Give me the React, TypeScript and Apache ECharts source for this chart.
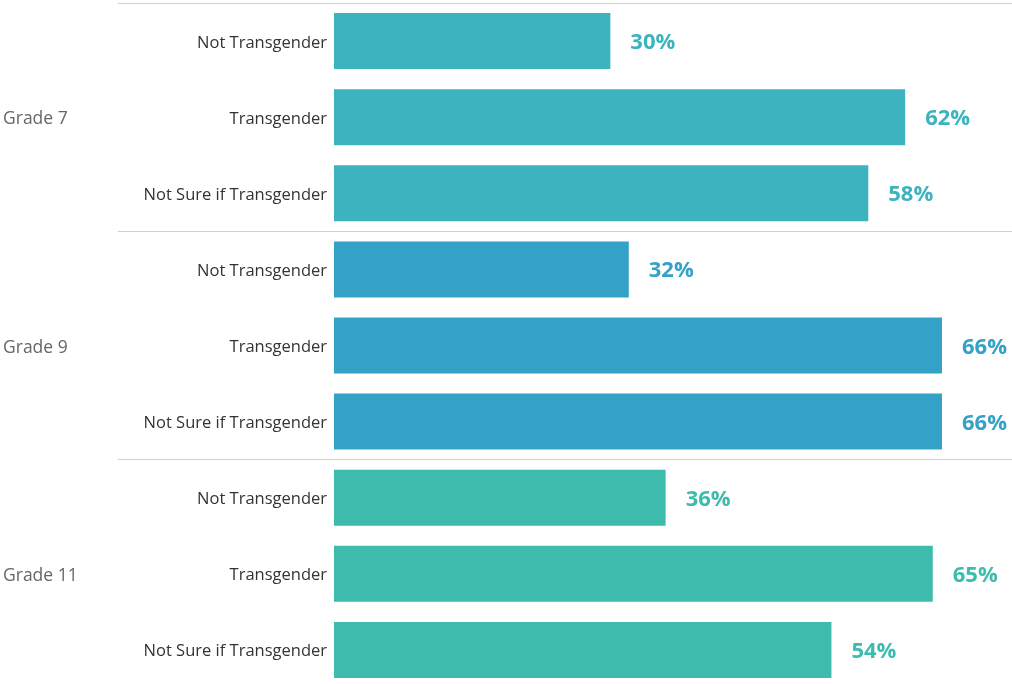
import React, { useEffect, useRef } from "react";
import * as echarts from "echarts";

const grades = ["Grade 7", "Grade 9", "Grade 11"];
const identities = ["Not Transgender", "Transgender", "Not Sure if Transgender"];
const grade7 = [30, 62, 58];
const grade9 = [32, 66, 66];
const grade11 = [36, 65, 54];
const gradeColors = ["#3cb3bf", "#34a2c6", "#3dbcad"];

const FONT = "'Open Sans', sans-serif";

export default function App() {
  const ref = useRef<HTMLDivElement>(null);
  useEffect(() => {
    if (!ref.current) return;
    const chart = echarts.init(ref.current, undefined, { renderer: "svg" });
    const cats: string[] = [];
    grades.forEach((g) => identities.forEach((id) => cats.push(g + "|" + id)));
    const values = [grade7, grade9, grade11];
    const series = values.map((vals, gi) => {
      const data: any[] = cats.map(() => "-");
      vals.forEach((v, i) => (data[gi * 3 + i] = v));
      return {
        type: "bar",
        name: grades[gi],
        xAxisIndex: 0,
        yAxisIndex: 0,
        data,
        barWidth: 56,
        barGap: "-100%",
        itemStyle: { color: gradeColors[gi] },
        label: {
          show: true,
          position: "right",
          distance: 20,
          offset: [0, -1],
          formatter: "{c}%",
          color: gradeColors[gi],
          fontSize: 22,
          fontWeight: "bold",
          fontFamily: FONT,
        },
      };
    });
    chart.setOption({
      animation: false,
      grid: [
        { left: 334, right: 0, top: 3, height: 685, outerBoundsMode: "none", containLabel: false },
        { left: 118, right: 0, top: 3, height: 685, outerBoundsMode: "none", containLabel: false },
      ],
      xAxis: [
        { type: "value", gridIndex: 0, min: 0, max: 73.6, show: false },
        { type: "value", gridIndex: 1, min: 0, max: 1, show: false },
      ],
      yAxis: [
        {
          type: "category",
          gridIndex: 0,
          data: cats,
          inverse: true,
          axisLine: { show: false },
          axisTick: { show: false },
          splitLine: { show: false },
          axisLabel: {
            margin: 7,
            color: "#333333",
            fontSize: 16.5,
            fontFamily: FONT,
            formatter: (v: string) => v.split("|")[1],
          },
        },
        {
          type: "category",
          gridIndex: 1,
          data: grades,
          inverse: true,
          axisLine: { show: false },
          axisTick: { show: false },
          splitLine: { show: true, lineStyle: { color: "#d0d0d0", width: 1 } },
          axisLabel: {
            margin: 115,
            align: "left",
            color: "#666666",
            fontSize: 17.5,
            fontFamily: FONT,
          },
        },
      ],
      series: [
        ...series,
        {
          type: "scatter",
          xAxisIndex: 1,
          yAxisIndex: 1,
          symbolSize: 0,
          silent: true,
          data: grades.map((g) => [0, g]),
          z: 0,
        },
      ],
    });
    return () => chart.dispose();
  }, []);
  return (
    <div
      ref={ref}
      style={{ position: "fixed", left: 0, top: 0, width: 1012, height: 684 }}
    />
  );
}
